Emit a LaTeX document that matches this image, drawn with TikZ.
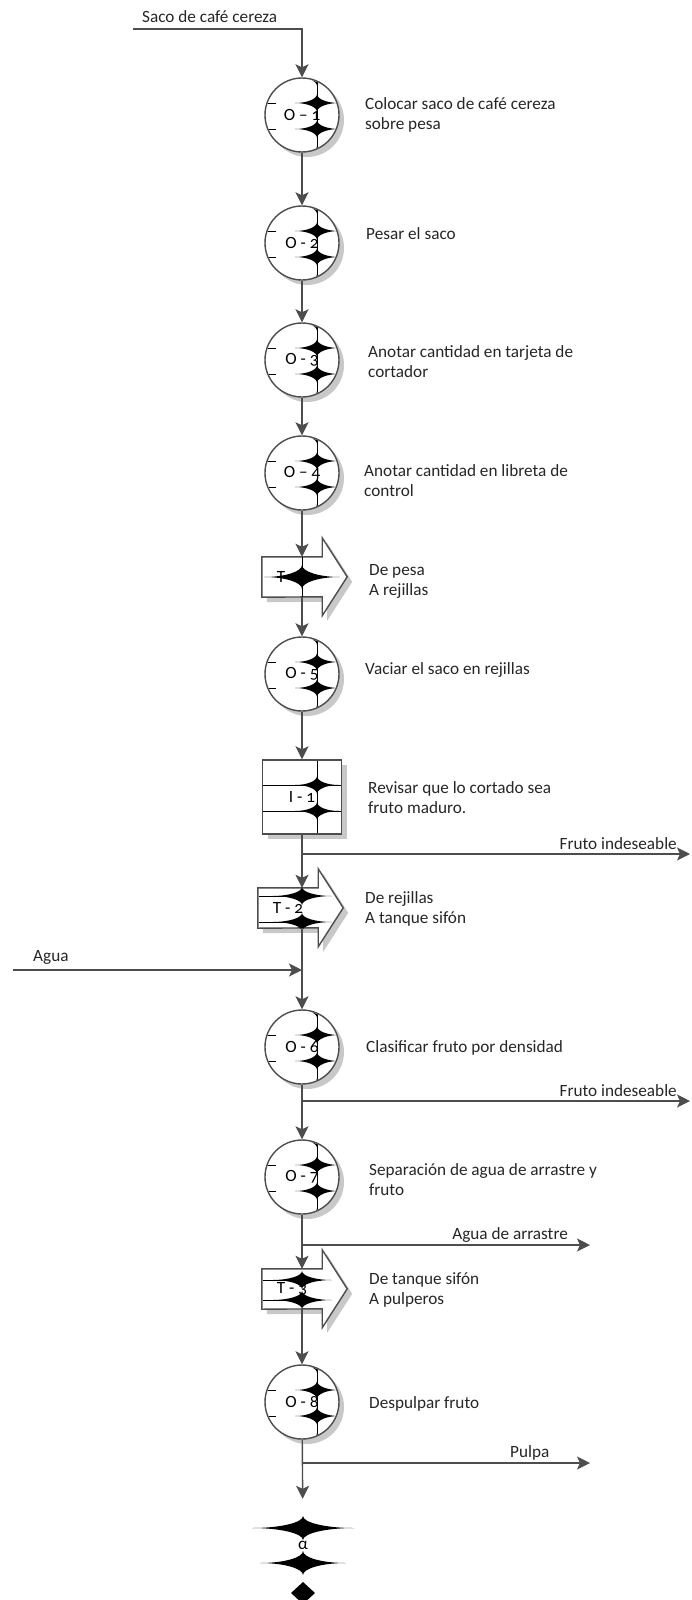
\documentclass[tikz,border=0pt]{standalone}
\usepackage{fontspec}
\setmainfont{Carlito}[Numbers=OldStyle]
\usetikzlibrary{arrows.meta, shadows, backgrounds}
\definecolor{linea}{HTML}{4D4D4D}
\definecolor{sombra}{HTML}{C8C8C8}
\tikzset{>={Stealth[length=13pt,width=13pt,inset=3pt]}}
\tikzset{
  sombreado/.style={drop shadow={shadow xshift=5pt, shadow yshift=-5pt, fill=sombra, opacity=1}},
  operacion/.style={circle, draw=linea, line width=1.4pt, fill=white, minimum size=74pt, inner sep=0pt, sombreado},
  inspeccion/.style={rectangle, draw=linea, line width=1.4pt, fill=white, minimum width=79pt, minimum height=74pt, inner sep=0pt, sombreado},
  transporte/.style={rectangle, minimum width=60pt, minimum height=40pt, inner sep=0pt},
  flecha/.style={draw=linea, line width=1.4pt, fill=white, sombreado},
  flujo/.style={draw=linea, line width=1.4pt, ->},
  trazo/.style={line width=0.6pt},
  texto/.style={anchor=west, align=left, inner sep=0pt, text=black!85}
}
% mancha negra: x, y, media anchura, media altura
\newcommand{\mancha}[4]{\fill ({#1-#3},#2) .. controls ({#1-0.45*#3},#2) and (#1,{#2-0.45*#4}) .. (#1,{#2-#4})
  .. controls (#1,{#2-0.45*#4}) and ({#1+0.45*#3},#2) .. ({#1+#3},#2)
  .. controls ({#1+0.45*#3},#2) and (#1,{#2+0.45*#4}) .. (#1,{#2+#4})
  .. controls (#1,{#2+0.45*#4}) and ({#1-0.45*#3},#2) .. cycle;}
% contorno de la flecha de transporte
\newcommand{\flechat}[1]{\begin{pgfonlayer}{background}
  \draw[flecha] (#1.north west) -- (#1.north east) -- ++(0,-19) -- ++(25,39) -- ++(-25,39) -- ++(0,-19) -- (#1.south west) -- cycle;
  \end{pgfonlayer}}

\begin{document}
\begin{tikzpicture}[x=1pt, y=-1pt, font=\fontsize{17.2}{20}\selectfont]
\useasboundingbox (0,0) rectangle (691,1600);

% simbolos
\node[operacion] (o1) at (302,115) {O – 1};
\node[operacion] (o2) at (302,243) {O - 2};
\node[operacion] (o3) at (302,360) {O - 3};
\node[operacion] (o4) at (302,473) {O – 4};
\node[transporte] (t1) at (292,577) {T - 1};
\flechat{t1}
\node[operacion] (o5) at (302,674) {O - 5};
\node[inspeccion] (i1) at (302,797) {I - 1};
\node[transporte] (t2) at (288,908) {T - 2};
\flechat{t2}
\node[operacion] (o6) at (302,1047) {O - 6};
\node[operacion] (o7) at (302,1177) {O - 7};
\node[transporte] (t3) at (292,1289) {T - 3};
\flechat{t3}
\node[operacion] (o8) at (302,1402) {O - 8};
\node[circle, minimum size=92pt, inner sep=0pt] (fin) at (303,1545) {α};

% manchas
\foreach \c in {115,243,360,473,674,1047,1177,1402} {
  \begin{scope}
    \clip (302,\c) circle (36);
    \mancha{317}{\c-38}{22}{9}
    \mancha{317}{\c-12}{22}{9}
    \mancha{317}{\c+14}{22}{9}
    \mancha{317}{\c+40}{22}{9}
    \draw[trazo] (317,\c-40) -- (317,\c+40);
    \draw[trazo] (262,\c-12) -- (276,\c-12) (262,\c+14) -- (276,\c+14);
  \end{scope}
}
\mancha{302}{577}{38}{12}
\draw[trazo] (302,557) -- (302,597);
\mancha{317}{785}{22}{9}
\mancha{317}{811}{22}{9}
\draw[trazo] (317,761) -- (317,833) (263,785) -- (341,785) (263,811) -- (341,811);
\mancha{302}{896}{30}{9}
\mancha{302}{922}{30}{9}
\draw[trazo] (259,896) -- (317,896) (259,922) -- (317,922);
\mancha{302}{1280}{30}{9}
\mancha{302}{1300}{30}{9}
\draw[trazo] (263,1280) -- (321,1280) (263,1300) -- (321,1300);
\mancha{303}{1528}{51}{12}
\mancha{303}{1563}{43}{12}
\fill (303,1582) -- (315,1593) -- (303,1604) -- (291,1593) -- cycle;

% descripciones
\node[texto] (lo1) at (365,115) {Colocar saco de café cereza\\sobre pesa};
\node[texto] (lo2) at (366,234) {Pesar el saco};
\node[texto] (lo3) at (368,362) {Anotar cantidad en tarjeta de\\cortador};
\node[texto] (lo4) at (364,481) {Anotar cantidad en libreta de\\control};
\node[texto] (lt1) at (369,581) {De pesa\\A rejillas};
\node[texto] (lo5) at (365,670) {Vaciar el saco en rejillas};
\node[texto] (li1) at (368,798) {Revisar que lo cortado sea\\fruto maduro.};
\node[texto] (lt2) at (365,909) {De rejillas\\A tanque sifón};
\node[texto] (lo6) at (366,1048) {Clasificar fruto por densidad};
\node[texto] (lo7) at (369,1180) {Separación de agua de arrastre y\\fruto};
\node[texto] (lt3) at (369,1290) {De tanque sifón\\A pulperos};
\node[texto] (lo8) at (369,1404) {Despulpar fruto};

% entradas y salidas
\coordinate (saco) at (133,29);
\coordinate (agua) at (13,970);
\coordinate (s1) at (690,854);
\coordinate (s2) at (690,1101);
\coordinate (s3) at (590,1245);
\coordinate (s4) at (590,1463);
\node[texto] (lsaco) at (142,17) {Saco de café cereza};
\node[texto] (lagua) at (33,957) {Agua};
\node[texto, anchor=east] (ls1) at (677,844) {Fruto indeseable};
\node[texto, anchor=east] (ls2) at (677,1091) {Fruto indeseable};
\node[texto, anchor=east] (ls3) at (568,1235) {Agua de arrastre};
\node[texto] (ls4) at (510,1453) {Pulpa};

% flujo
\draw[flujo] (saco) -| (o1.north);
\draw[flujo] (o1) -- (o2);
\draw[flujo] (o2) -- (o3);
\draw[flujo] (o3) -- (o4);
\draw[flujo] (o4.south) -- (o4.south |- t1.north);
\draw[flujo] (o5 |- t1.south) -- (o5.north);
\draw[flujo] (o5) -- (i1);
\draw[flujo] (i1.south) -- (i1.south |- t2.north);
\draw[flujo] (o6 |- t2.south) -- (o6.north);
\draw[flujo] (agua) -- (agua -| o6);
\draw[flujo] (o6) -- (o7);
\draw[flujo] (o7.south) -- (o7.south |- t3.north);
\draw[flujo] (o8 |- t3.south) -- (o8.north);
\draw[flujo] (o8) -- (fin);
\draw[flujo] (i1 |- s1) -- (s1);
\draw[flujo] (o6 |- s2) -- (s2);
\draw[flujo] (o7 |- s3) -- (s3);
\draw[flujo] (o8 |- s4) -- (s4);
\end{tikzpicture}
\end{document}
